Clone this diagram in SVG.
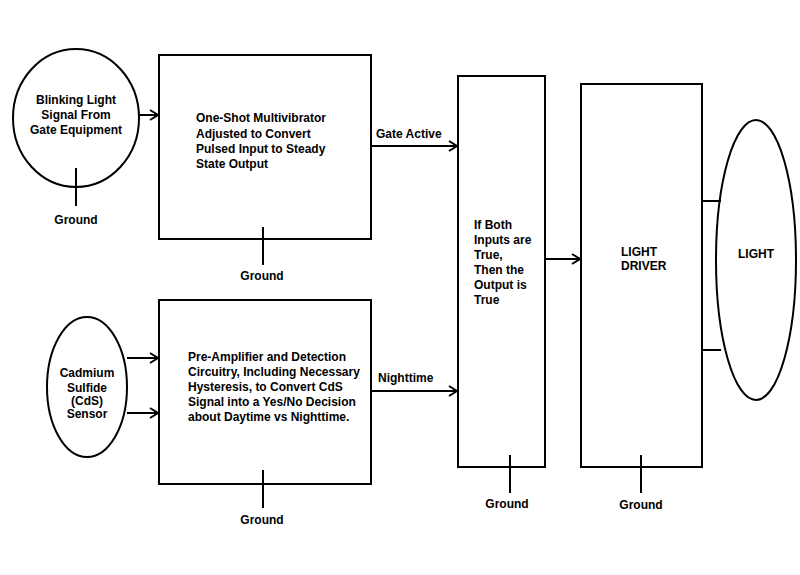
<svg xmlns="http://www.w3.org/2000/svg" width="800" height="575" viewBox="0 0 800 575">
<defs>
<marker id="ah" markerWidth="12" markerHeight="12" refX="10" refY="6" orient="auto" markerUnits="userSpaceOnUse">
<path d="M2,1 L10,6 L2,11" fill="none" stroke="#000" stroke-width="2"/>
</marker>
<style>
.s{fill:#fff;stroke:#000;stroke-width:2}
.l{stroke:#000;stroke-width:2;fill:none}
text{font-family:"Liberation Sans",Arial,sans-serif;font-size:12px;font-weight:bold;fill:#000}
.c{text-anchor:middle}
</style>
</defs>
<rect width="800" height="575" fill="#fff"/>
<g id="blink">
<ellipse class="s" cx="76" cy="118" rx="63" ry="69"/>
<text class="c" x="76" y="104">Blinking Light</text>
<text class="c" x="76" y="119">Signal From</text>
<text class="c" x="76" y="134">Gate Equipment</text>
<line class="l" x1="76" y1="168" x2="76" y2="206"/>
<text class="c" x="76" y="224">Ground</text>
</g>
<g id="oneshot">
<rect class="s" x="159" y="55" width="212" height="184"/>
<text x="196" y="122">One-Shot Multivibrator</text>
<text x="196" y="138">Adjusted to Convert</text>
<text x="196" y="153">Pulsed Input to Steady</text>
<text x="196" y="168">State Output</text>
<line class="l" x1="263" y1="227" x2="263" y2="265"/>
<text class="c" x="262" y="280">Ground</text>
</g>
<g id="cds">
<ellipse class="s" cx="87" cy="387" rx="40" ry="70"/>
<text class="c" x="87" y="377">Cadmium</text>
<text class="c" x="87" y="392">Sulfide</text>
<text class="c" x="87" y="405">(CdS)</text>
<text class="c" x="87" y="418">Sensor</text>
</g>
<g id="preamp">
<rect class="s" x="159" y="300" width="212" height="184"/>
<text x="188" y="361">Pre-Amplifier and Detection</text>
<text x="188" y="376">Circuitry, Including Necessary</text>
<text x="188" y="391">Hysteresis, to Convert CdS</text>
<text x="188" y="406">Signal into a Yes/No Decision</text>
<text x="188" y="421">about Daytime vs Nighttime.</text>
<line class="l" x1="263" y1="470" x2="263" y2="508"/>
<text class="c" x="262" y="524">Ground</text>
</g>
<g id="and">
<rect class="s" x="458" y="76" width="87" height="391"/>
<text x="474" y="229">If Both</text>
<text x="474" y="244">Inputs are</text>
<text x="474" y="259">True,</text>
<text x="474" y="274">Then the</text>
<text x="474" y="289">Output is</text>
<text x="474" y="304">True</text>
<line class="l" x1="510" y1="455" x2="510" y2="493"/>
<text class="c" x="507" y="508">Ground</text>
</g>
<g id="driver">
<rect class="s" x="581" y="84" width="121" height="383"/>
<text x="621" y="256">LIGHT</text>
<text x="621" y="270">DRIVER</text>
<line class="l" x1="641" y1="455" x2="641" y2="493"/>
<text class="c" x="641" y="509">Ground</text>
</g>
<g id="light">
<ellipse class="s" cx="756" cy="260" rx="40" ry="140"/>
<text class="c" x="756" y="258">LIGHT</text>
</g>
<g id="connectors">
<line class="l" x1="139" y1="115" x2="158" y2="115" marker-end="url(#ah)"/>
<line class="l" x1="371" y1="146" x2="457" y2="146" marker-end="url(#ah)"/>
<text x="376" y="138">Gate Active</text>
<line class="l" x1="127" y1="358" x2="158" y2="358" marker-end="url(#ah)"/>
<line class="l" x1="127" y1="413" x2="158" y2="413" marker-end="url(#ah)"/>
<line class="l" x1="371" y1="391" x2="457" y2="391" marker-end="url(#ah)"/>
<text x="378" y="382">Nighttime</text>
<line class="l" x1="545" y1="259" x2="580" y2="259" marker-end="url(#ah)"/>
<line class="l" x1="702" y1="201" x2="721" y2="201"/>
<line class="l" x1="702" y1="350" x2="721" y2="350"/>
</g>
</svg>
